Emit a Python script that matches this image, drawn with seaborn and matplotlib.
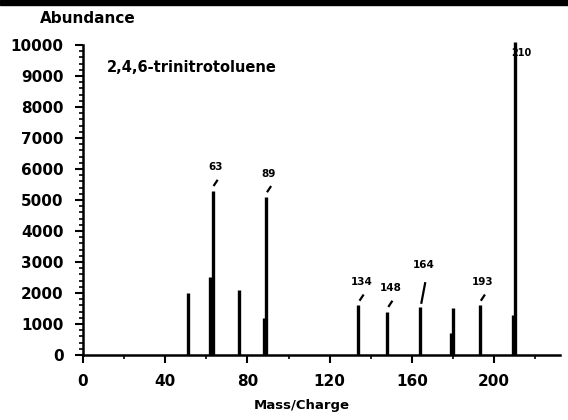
import matplotlib
matplotlib.use("Agg")
import matplotlib.pyplot as plt
from matplotlib.ticker import MultipleLocator
from matplotlib.patches import Rectangle
import numpy as np
import pandas as pd
import seaborn as sns

# ---- data ----
mass = [51, 62, 63, 76, 88, 89, 134, 148, 164, 179, 180, 193, 209, 210]
abundance = [2000, 2500, 5300, 2100, 1200, 5100, 1600, 1400, 1550, 700, 1500, 1600, 1300, 10100]
label_mass = [63, 89, 134, 148, 164, 193, 210]
label_text = ["63", "89", "134", "148", "164", "193", "210"]
compound = "2,4,6-trinitrotoluene"
x_ticks = [0, 40, 80, 120, 160, 200]
y_ticks = [0, 1000, 2000, 3000, 4000, 5000, 6000, 7000, 8000, 9000, 10000]

sns.set_theme(style="ticks")
plt.rcParams["font.family"] = ["DejaVu Sans"]

fig = plt.figure(figsize=(5.68, 4.2), dpi=100)
fig.patch.set_facecolor("white")
ax = fig.add_axes([0.1461, 0.1548, 0.8398, 0.7381])
ax.set_facecolor("white")

df = pd.DataFrame({"mass": mass, "abundance": abundance})
ax.vlines(df["mass"], 0, df["abundance"], color="black", lw=2.4, clip_on=False)

# labels with small leader slashes
peak_top = dict(zip(mass, abundance))
for m, t in zip(label_mass, label_text):
    top = peak_top[m]
    if m == 210:
        ax.text(m + 3, top - 350, t, ha="center", va="center", fontsize=7,
                fontweight="bold", color="black")
        continue
    if m == 164:
        s0, s1, ly = 100, 800, 1350
    else:
        s0, s1, ly = 150, 350, 750
    ax.plot([m + 0.5, m + 2.5], [top + s0, top + s1], color="black", lw=1.6,
            solid_capstyle="butt")
    ax.text(m + 1.5, top + ly, t, ha="center", va="center", fontsize=7.5,
            fontweight="bold", color="black")

ax.text((107 - 83) / 477, (355 - 68) / 310, compound, transform=ax.transAxes,
        ha="left", va="center", fontsize=10.5, fontweight="bold", color="black")

ax.set_xlim(0, 232)
ax.set_ylim(0, 10000)
ax.set_xticks(x_ticks)
ax.set_xticklabels([str(v) for v in x_ticks])
ax.set_yticks(y_ticks)
ax.set_yticklabels([str(v) for v in y_ticks])
ax.xaxis.set_minor_locator(MultipleLocator(20))
ax.yaxis.set_minor_locator(MultipleLocator(200))

ax.tick_params(axis="both", which="major", direction="out", length=6, width=1.5,
               colors="black", labelsize=11)
ax.tick_params(axis="y", which="major", pad=8)
ax.tick_params(axis="x", which="major", pad=8)
ax.tick_params(axis="both", which="minor", direction="out", length=3, width=1.2,
               colors="black")
for lab in ax.get_xticklabels() + ax.get_yticklabels():
    lab.set_fontweight("bold")

sns.despine(ax=ax)
for s in ["left", "bottom"]:
    ax.spines[s].set_linewidth(1.8)
    ax.spines[s].set_color("black")

ax.set_xlabel("Mass/Charge", fontsize=9.5, fontweight="bold", color="black")
ax.xaxis.set_label_coords((302 - 83) / 477, (355 - 399) / 310)
ax.set_ylabel("Abundance", fontsize=11, fontweight="bold", color="black",
              rotation=0, ha="center", va="center")
ax.yaxis.set_label_coords((88 - 83) / 477, (355 - 19) / 310)

fig.add_artist(Rectangle((0, 1 - 5 / 420), 1, 5 / 420, transform=fig.transFigure,
                         color="black", zorder=10))

fig.savefig("out.png", dpi=100)
